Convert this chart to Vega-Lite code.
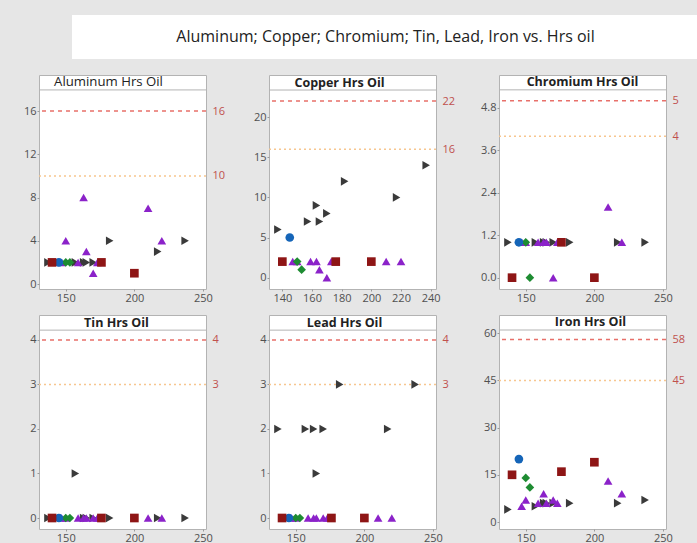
{
  "$schema": "https://vega.github.io/schema/vega-lite/v6.json",
  "background": "#e6e6e6",
  "padding": {"left": 22, "top": 15, "right": 0, "bottom": 0},
  "config": {
    "font": "Open Sans",
    "axis": {"labelFontSize": 11, "labelColor": "#505050", "tickColor": "#9a9a9a", "tickSize": 2, "domain": false, "grid": false, "labelPadding": 1, "title": null},
    "view": {"stroke": "#b3b3b3"}
  },
  "datasets": {
    "panels": [
      {"panel": "Aluminum", "title": "Aluminum Hrs Oil"},
      {"panel": "Copper", "title": "Copper Hrs Oil"},
      {"panel": "Chromium", "title": "Chromium Hrs Oil"},
      {"panel": "Tin", "title": "Tin Hrs Oil"},
      {"panel": "Lead", "title": "Lead Hrs Oil"},
      {"panel": "Iron", "title": "Iron Hrs Oil"}
    ],
    "lims": [
      {"panel": "Aluminum", "level": 16, "kind": "limit"}, {"panel": "Aluminum", "level": 10, "kind": "caution"},
      {"panel": "Copper", "level": 22, "kind": "limit"}, {"panel": "Copper", "level": 16, "kind": "caution"},
      {"panel": "Chromium", "level": 5, "kind": "limit"}, {"panel": "Chromium", "level": 4, "kind": "caution"},
      {"panel": "Tin", "level": 4, "kind": "limit"}, {"panel": "Tin", "level": 3, "kind": "caution"},
      {"panel": "Lead", "level": 4, "kind": "limit"}, {"panel": "Lead", "level": 3, "kind": "caution"},
      {"panel": "Iron", "level": 58, "kind": "limit"}, {"panel": "Iron", "level": 45, "kind": "caution"}
    ],
    "pts": [
      {"panel": "Aluminum", "group": "S1", "hrs": 137, "value": 2},
      {"panel": "Aluminum", "group": "S1", "hrs": 157, "value": 2},
      {"panel": "Aluminum", "group": "S1", "hrs": 163, "value": 2},
      {"panel": "Aluminum", "group": "S1", "hrs": 165, "value": 2},
      {"panel": "Aluminum", "group": "S1", "hrs": 170, "value": 2},
      {"panel": "Aluminum", "group": "S1", "hrs": 182, "value": 4},
      {"panel": "Aluminum", "group": "S1", "hrs": 217, "value": 3},
      {"panel": "Aluminum", "group": "S1", "hrs": 237, "value": 4},
      {"panel": "Aluminum", "group": "S2", "hrs": 147, "value": 2},
      {"panel": "Aluminum", "group": "S2", "hrs": 150, "value": 4},
      {"panel": "Aluminum", "group": "S2", "hrs": 159, "value": 2},
      {"panel": "Aluminum", "group": "S2", "hrs": 163, "value": 8},
      {"panel": "Aluminum", "group": "S2", "hrs": 165, "value": 3},
      {"panel": "Aluminum", "group": "S2", "hrs": 170, "value": 1},
      {"panel": "Aluminum", "group": "S2", "hrs": 173, "value": 2},
      {"panel": "Aluminum", "group": "S2", "hrs": 210, "value": 7},
      {"panel": "Aluminum", "group": "S2", "hrs": 220, "value": 4},
      {"panel": "Aluminum", "group": "S4", "hrs": 150, "value": 2},
      {"panel": "Aluminum", "group": "S4", "hrs": 153, "value": 2},
      {"panel": "Aluminum", "group": "S5", "hrs": 145, "value": 2},
      {"panel": "Aluminum", "group": "S3", "hrs": 140, "value": 2},
      {"panel": "Aluminum", "group": "S3", "hrs": 176, "value": 2},
      {"panel": "Aluminum", "group": "S3", "hrs": 200, "value": 1},

      {"panel": "Copper", "group": "S1", "hrs": 137, "value": 6},
      {"panel": "Copper", "group": "S1", "hrs": 157, "value": 7},
      {"panel": "Copper", "group": "S1", "hrs": 163, "value": 9},
      {"panel": "Copper", "group": "S1", "hrs": 165, "value": 7},
      {"panel": "Copper", "group": "S1", "hrs": 170, "value": 8},
      {"panel": "Copper", "group": "S1", "hrs": 182, "value": 12},
      {"panel": "Copper", "group": "S1", "hrs": 217, "value": 10},
      {"panel": "Copper", "group": "S1", "hrs": 237, "value": 14},
      {"panel": "Copper", "group": "S2", "hrs": 147, "value": 2},
      {"panel": "Copper", "group": "S2", "hrs": 150, "value": 2},
      {"panel": "Copper", "group": "S2", "hrs": 159, "value": 2},
      {"panel": "Copper", "group": "S2", "hrs": 163, "value": 2},
      {"panel": "Copper", "group": "S2", "hrs": 165, "value": 1},
      {"panel": "Copper", "group": "S2", "hrs": 170, "value": 0},
      {"panel": "Copper", "group": "S2", "hrs": 173, "value": 2},
      {"panel": "Copper", "group": "S2", "hrs": 210, "value": 2},
      {"panel": "Copper", "group": "S2", "hrs": 220, "value": 2},
      {"panel": "Copper", "group": "S4", "hrs": 150, "value": 2},
      {"panel": "Copper", "group": "S4", "hrs": 153, "value": 1},
      {"panel": "Copper", "group": "S5", "hrs": 145, "value": 5},
      {"panel": "Copper", "group": "S3", "hrs": 140, "value": 2},
      {"panel": "Copper", "group": "S3", "hrs": 176, "value": 2},
      {"panel": "Copper", "group": "S3", "hrs": 200, "value": 2},

      {"panel": "Chromium", "group": "S1", "hrs": 137, "value": 1},
      {"panel": "Chromium", "group": "S1", "hrs": 157, "value": 1},
      {"panel": "Chromium", "group": "S1", "hrs": 163, "value": 1},
      {"panel": "Chromium", "group": "S1", "hrs": 165, "value": 1},
      {"panel": "Chromium", "group": "S1", "hrs": 170, "value": 1},
      {"panel": "Chromium", "group": "S1", "hrs": 182, "value": 1},
      {"panel": "Chromium", "group": "S1", "hrs": 217, "value": 1},
      {"panel": "Chromium", "group": "S1", "hrs": 237, "value": 1},
      {"panel": "Chromium", "group": "S2", "hrs": 147, "value": 1},
      {"panel": "Chromium", "group": "S2", "hrs": 150, "value": 1},
      {"panel": "Chromium", "group": "S2", "hrs": 159, "value": 1},
      {"panel": "Chromium", "group": "S2", "hrs": 163, "value": 1},
      {"panel": "Chromium", "group": "S2", "hrs": 165, "value": 1},
      {"panel": "Chromium", "group": "S2", "hrs": 170, "value": 0},
      {"panel": "Chromium", "group": "S2", "hrs": 173, "value": 1},
      {"panel": "Chromium", "group": "S2", "hrs": 210, "value": 2},
      {"panel": "Chromium", "group": "S2", "hrs": 220, "value": 1},
      {"panel": "Chromium", "group": "S4", "hrs": 150, "value": 1},
      {"panel": "Chromium", "group": "S4", "hrs": 153, "value": 0},
      {"panel": "Chromium", "group": "S5", "hrs": 145, "value": 1},
      {"panel": "Chromium", "group": "S3", "hrs": 140, "value": 0},
      {"panel": "Chromium", "group": "S3", "hrs": 176, "value": 1},
      {"panel": "Chromium", "group": "S3", "hrs": 200, "value": 0},

      {"panel": "Tin", "group": "S1", "hrs": 137, "value": 0},
      {"panel": "Tin", "group": "S1", "hrs": 157, "value": 1},
      {"panel": "Tin", "group": "S1", "hrs": 163, "value": 0},
      {"panel": "Tin", "group": "S1", "hrs": 165, "value": 0},
      {"panel": "Tin", "group": "S1", "hrs": 170, "value": 0},
      {"panel": "Tin", "group": "S1", "hrs": 182, "value": 0},
      {"panel": "Tin", "group": "S1", "hrs": 217, "value": 0},
      {"panel": "Tin", "group": "S1", "hrs": 237, "value": 0},
      {"panel": "Tin", "group": "S2", "hrs": 147, "value": 0},
      {"panel": "Tin", "group": "S2", "hrs": 150, "value": 0},
      {"panel": "Tin", "group": "S2", "hrs": 159, "value": 0},
      {"panel": "Tin", "group": "S2", "hrs": 163, "value": 0},
      {"panel": "Tin", "group": "S2", "hrs": 165, "value": 0},
      {"panel": "Tin", "group": "S2", "hrs": 170, "value": 0},
      {"panel": "Tin", "group": "S2", "hrs": 173, "value": 0},
      {"panel": "Tin", "group": "S2", "hrs": 210, "value": 0},
      {"panel": "Tin", "group": "S2", "hrs": 220, "value": 0},
      {"panel": "Tin", "group": "S4", "hrs": 150, "value": 0},
      {"panel": "Tin", "group": "S4", "hrs": 153, "value": 0},
      {"panel": "Tin", "group": "S5", "hrs": 145, "value": 0},
      {"panel": "Tin", "group": "S3", "hrs": 140, "value": 0},
      {"panel": "Tin", "group": "S3", "hrs": 176, "value": 0},
      {"panel": "Tin", "group": "S3", "hrs": 200, "value": 0},

      {"panel": "Lead", "group": "S1", "hrs": 137, "value": 2},
      {"panel": "Lead", "group": "S1", "hrs": 157, "value": 2},
      {"panel": "Lead", "group": "S1", "hrs": 163, "value": 2},
      {"panel": "Lead", "group": "S1", "hrs": 165, "value": 1},
      {"panel": "Lead", "group": "S1", "hrs": 170, "value": 2},
      {"panel": "Lead", "group": "S1", "hrs": 182, "value": 3},
      {"panel": "Lead", "group": "S1", "hrs": 217, "value": 2},
      {"panel": "Lead", "group": "S1", "hrs": 237, "value": 3},
      {"panel": "Lead", "group": "S2", "hrs": 147, "value": 0},
      {"panel": "Lead", "group": "S2", "hrs": 150, "value": 0},
      {"panel": "Lead", "group": "S2", "hrs": 159, "value": 0},
      {"panel": "Lead", "group": "S2", "hrs": 163, "value": 0},
      {"panel": "Lead", "group": "S2", "hrs": 165, "value": 0},
      {"panel": "Lead", "group": "S2", "hrs": 170, "value": 0},
      {"panel": "Lead", "group": "S2", "hrs": 173, "value": 0},
      {"panel": "Lead", "group": "S2", "hrs": 210, "value": 0},
      {"panel": "Lead", "group": "S2", "hrs": 220, "value": 0},
      {"panel": "Lead", "group": "S4", "hrs": 150, "value": 0},
      {"panel": "Lead", "group": "S4", "hrs": 153, "value": 0},
      {"panel": "Lead", "group": "S5", "hrs": 145, "value": 0},
      {"panel": "Lead", "group": "S3", "hrs": 140, "value": 0},
      {"panel": "Lead", "group": "S3", "hrs": 176, "value": 0},
      {"panel": "Lead", "group": "S3", "hrs": 200, "value": 0},

      {"panel": "Iron", "group": "S1", "hrs": 137, "value": 4},
      {"panel": "Iron", "group": "S1", "hrs": 157, "value": 5},
      {"panel": "Iron", "group": "S1", "hrs": 163, "value": 6},
      {"panel": "Iron", "group": "S1", "hrs": 165, "value": 6},
      {"panel": "Iron", "group": "S1", "hrs": 170, "value": 6},
      {"panel": "Iron", "group": "S1", "hrs": 182, "value": 6},
      {"panel": "Iron", "group": "S1", "hrs": 217, "value": 6},
      {"panel": "Iron", "group": "S1", "hrs": 237, "value": 7},
      {"panel": "Iron", "group": "S2", "hrs": 147, "value": 5},
      {"panel": "Iron", "group": "S2", "hrs": 150, "value": 7},
      {"panel": "Iron", "group": "S2", "hrs": 159, "value": 6},
      {"panel": "Iron", "group": "S2", "hrs": 163, "value": 9},
      {"panel": "Iron", "group": "S2", "hrs": 165, "value": 6},
      {"panel": "Iron", "group": "S2", "hrs": 170, "value": 7},
      {"panel": "Iron", "group": "S2", "hrs": 173, "value": 6},
      {"panel": "Iron", "group": "S2", "hrs": 210, "value": 13},
      {"panel": "Iron", "group": "S2", "hrs": 220, "value": 9},
      {"panel": "Iron", "group": "S4", "hrs": 150, "value": 14},
      {"panel": "Iron", "group": "S4", "hrs": 153, "value": 11},
      {"panel": "Iron", "group": "S5", "hrs": 145, "value": 20},
      {"panel": "Iron", "group": "S3", "hrs": 140, "value": 15},
      {"panel": "Iron", "group": "S3", "hrs": 176, "value": 16},
      {"panel": "Iron", "group": "S3", "hrs": 200, "value": 19}
    ]
  },
  "vconcat": [
    {
      "hconcat": [
        {"width": 1, "height": 44, "data": {"values": []}, "mark": "point", "view": {"stroke": null}},
        {
          "width": 627, "height": 44,
          "view": {"fill": "white", "stroke": null},
          "data": {"values": [{"t": "Aluminum; Copper; Chromium; Tin, Lead, Iron vs. Hrs oil"}]},
          "mark": {"type": "text", "fontSize": 16, "color": "#222222"},
          "encoding": {"text": {"field": "t"}}
        }
      ],
      "spacing": 32,
      "bounds": "flush"
    },
    {
      "columns": 3,
      "spacing": {"column": 63, "row": 26},
      "bounds": "flush",
      "concat": [
        {
          "width": 167, "height": 214,
          "view": {"fill": "white", "stroke": "#b3b3b3"},
          "resolve": {"axis": {"y": "independent"}},
          "layer": [
            {
              "data": {"name": "lims"}, "transform": [{"filter": "datum.panel === 'Aluminum'"}],
              "mark": {"type": "rule", "strokeWidth": 1.5},
              "encoding": {
                "y": {"field": "level", "type": "quantitative", "scale": {"domain": [-0.46, 19.33], "nice": false, "zero": false}, "axis": {"orient": "right", "values": [10, 16], "format": "d", "labelColor": "#c0504d", "ticks": false, "labelPadding": 6}},
                "stroke": {"field": "kind", "type": "nominal", "scale": {"domain": ["limit", "caution"], "range": ["#e8706a", "#f7c68f"]}, "legend": null},
                "strokeDash": {"field": "kind", "type": "nominal", "scale": {"domain": ["limit", "caution"], "range": [[4, 4], [2, 3]]}, "legend": null}
              }
            },
            {
              "data": {"name": "panels"}, "transform": [{"filter": "datum.panel === 'Aluminum'"}],
              "mark": {"type": "rule", "color": "#b3b3b3"},
              "encoding": {"y": {"datum": 17.95, "type": "quantitative", "axis": null}}
            },
            {
              "data": {"name": "panels"}, "transform": [{"filter": "datum.panel === 'Aluminum'"}],
              "mark": {"type": "text", "fontSize": 13.2, "fontWeight": "normal", "color": "#222222", "dx": -14},
              "encoding": {"text": {"field": "title"}, "y": {"datum": 18.65, "type": "quantitative", "axis": null}}
            },
            {
              "data": {"name": "pts"}, "transform": [{"filter": "datum.panel === 'Aluminum'"}],
              "mark": {"type": "point", "filled": true, "opacity": 1, "size": 75},
              "encoding": {
                "x": {"field": "hrs", "type": "quantitative", "scale": {"domain": [130.5, 252.2], "nice": false, "zero": false}, "axis": {"values": [150, 200, 250]}},
                "y": {"field": "value", "type": "quantitative", "axis": {"values": [0, 4, 8, 12, 16]}},
                "shape": {"field": "group", "type": "nominal", "scale": {"domain": ["S1", "S2", "S3", "S4", "S5"], "range": ["triangle-right", "triangle-up", "square", "diamond", "circle"]}, "legend": null},
                "color": {"field": "group", "type": "nominal", "scale": {"domain": ["S1", "S2", "S3", "S4", "S5"], "range": ["#3a3a3a", "#8b22c9", "#8e1515", "#1e8c32", "#1565b8"]}, "legend": null}
              }
            }
          ]
        },
        {
          "width": 167, "height": 214,
          "view": {"fill": "white", "stroke": "#b3b3b3"},
          "resolve": {"axis": {"y": "independent"}},
          "layer": [
            {
              "data": {"name": "lims"}, "transform": [{"filter": "datum.panel === 'Copper'"}],
              "mark": {"type": "rule", "strokeWidth": 1.5},
              "encoding": {
                "y": {"field": "level", "type": "quantitative", "scale": {"domain": [-1.41, 25.24], "nice": false, "zero": false}, "axis": {"orient": "right", "values": [16, 22], "format": "d", "labelColor": "#c0504d", "ticks": false, "labelPadding": 6}},
                "stroke": {"field": "kind", "type": "nominal", "scale": {"domain": ["limit", "caution"], "range": ["#e8706a", "#f7c68f"]}, "legend": null},
                "strokeDash": {"field": "kind", "type": "nominal", "scale": {"domain": ["limit", "caution"], "range": [[4, 4], [2, 3]]}, "legend": null}
              }
            },
            {
              "data": {"name": "panels"}, "transform": [{"filter": "datum.panel === 'Copper'"}],
              "mark": {"type": "rule", "color": "#b3b3b3"},
              "encoding": {"y": {"datum": 23.37, "type": "quantitative", "axis": null}}
            },
            {
              "data": {"name": "panels"}, "transform": [{"filter": "datum.panel === 'Copper'"}],
              "mark": {"type": "text", "fontSize": 12.5, "fontWeight": "bold", "color": "#222222", "dx": -13},
              "encoding": {"text": {"field": "title"}, "y": {"datum": 24.3, "type": "quantitative", "axis": null}}
            },
            {
              "data": {"name": "pts"}, "transform": [{"filter": "datum.panel === 'Copper'"}],
              "mark": {"type": "point", "filled": true, "opacity": 1, "size": 75},
              "encoding": {
                "x": {"field": "hrs", "type": "quantitative", "scale": {"domain": [131, 243.6], "nice": false, "zero": false}, "axis": {"values": [140, 160, 180, 200, 220, 240]}},
                "y": {"field": "value", "type": "quantitative", "axis": {"values": [0, 5, 10, 15, 20]}},
                "shape": {"field": "group", "type": "nominal", "scale": {"domain": ["S1", "S2", "S3", "S4", "S5"], "range": ["triangle-right", "triangle-up", "square", "diamond", "circle"]}, "legend": null},
                "color": {"field": "group", "type": "nominal", "scale": {"domain": ["S1", "S2", "S3", "S4", "S5"], "range": ["#3a3a3a", "#8b22c9", "#8e1515", "#1e8c32", "#1565b8"]}, "legend": null}
              }
            }
          ]
        },
        {
          "width": 167, "height": 214,
          "view": {"fill": "white", "stroke": "#b3b3b3"},
          "resolve": {"axis": {"y": "independent"}},
          "layer": [
            {
              "data": {"name": "lims"}, "transform": [{"filter": "datum.panel === 'Chromium'"}],
              "mark": {"type": "rule", "strokeWidth": 1.5},
              "encoding": {
                "y": {"field": "level", "type": "quantitative", "scale": {"domain": [-0.32, 5.73], "nice": false, "zero": false}, "axis": {"orient": "right", "values": [4, 5], "format": "d", "labelColor": "#c0504d", "ticks": false, "labelPadding": 6}},
                "stroke": {"field": "kind", "type": "nominal", "scale": {"domain": ["limit", "caution"], "range": ["#e8706a", "#f7c68f"]}, "legend": null},
                "strokeDash": {"field": "kind", "type": "nominal", "scale": {"domain": ["limit", "caution"], "range": [[4, 4], [2, 3]]}, "legend": null}
              }
            },
            {
              "data": {"name": "panels"}, "transform": [{"filter": "datum.panel === 'Chromium'"}],
              "mark": {"type": "rule", "color": "#b3b3b3"},
              "encoding": {"y": {"datum": 5.31, "type": "quantitative", "axis": null}}
            },
            {
              "data": {"name": "panels"}, "transform": [{"filter": "datum.panel === 'Chromium'"}],
              "mark": {"type": "text", "fontSize": 12.5, "fontWeight": "bold", "color": "#222222"},
              "encoding": {"text": {"field": "title"}, "y": {"datum": 5.52, "type": "quantitative", "axis": null}}
            },
            {
              "data": {"name": "pts"}, "transform": [{"filter": "datum.panel === 'Chromium'"}],
              "mark": {"type": "point", "filled": true, "opacity": 1, "size": 75},
              "encoding": {
                "x": {"field": "hrs", "type": "quantitative", "scale": {"domain": [130.5, 252.2], "nice": false, "zero": false}, "axis": {"values": [150, 200, 250]}},
                "y": {"field": "value", "type": "quantitative", "axis": {"values": [0, 1.2, 2.4, 3.6, 4.8], "format": ".1f"}},
                "shape": {"field": "group", "type": "nominal", "scale": {"domain": ["S1", "S2", "S3", "S4", "S5"], "range": ["triangle-right", "triangle-up", "square", "diamond", "circle"]}, "legend": null},
                "color": {"field": "group", "type": "nominal", "scale": {"domain": ["S1", "S2", "S3", "S4", "S5"], "range": ["#3a3a3a", "#8b22c9", "#8e1515", "#1e8c32", "#1565b8"]}, "legend": null}
              }
            }
          ]
        },
        {
          "width": 167, "height": 214,
          "view": {"fill": "white", "stroke": "#b3b3b3"},
          "resolve": {"axis": {"y": "independent"}},
          "layer": [
            {
              "data": {"name": "lims"}, "transform": [{"filter": "datum.panel === 'Tin'"}],
              "mark": {"type": "rule", "strokeWidth": 1.5},
              "encoding": {
                "y": {"field": "level", "type": "quantitative", "scale": {"domain": [-0.247, 4.56], "nice": false, "zero": false}, "axis": {"orient": "right", "values": [3, 4], "format": "d", "labelColor": "#c0504d", "ticks": false, "labelPadding": 6}},
                "stroke": {"field": "kind", "type": "nominal", "scale": {"domain": ["limit", "caution"], "range": ["#e8706a", "#f7c68f"]}, "legend": null},
                "strokeDash": {"field": "kind", "type": "nominal", "scale": {"domain": ["limit", "caution"], "range": [[4, 4], [2, 3]]}, "legend": null}
              }
            },
            {
              "data": {"name": "panels"}, "transform": [{"filter": "datum.panel === 'Tin'"}],
              "mark": {"type": "rule", "color": "#b3b3b3"},
              "encoding": {"y": {"datum": 4.22, "type": "quantitative", "axis": null}}
            },
            {
              "data": {"name": "panels"}, "transform": [{"filter": "datum.panel === 'Tin'"}],
              "mark": {"type": "text", "fontSize": 12.5, "fontWeight": "bold", "color": "#222222", "dx": -6},
              "encoding": {"text": {"field": "title"}, "y": {"datum": 4.39, "type": "quantitative", "axis": null}}
            },
            {
              "data": {"name": "pts"}, "transform": [{"filter": "datum.panel === 'Tin'"}],
              "mark": {"type": "point", "filled": true, "opacity": 1, "size": 75},
              "encoding": {
                "x": {"field": "hrs", "type": "quantitative", "scale": {"domain": [130.5, 252.2], "nice": false, "zero": false}, "axis": {"values": [150, 200, 250]}},
                "y": {"field": "value", "type": "quantitative", "axis": {"values": [0, 1, 2, 3, 4]}},
                "shape": {"field": "group", "type": "nominal", "scale": {"domain": ["S1", "S2", "S3", "S4", "S5"], "range": ["triangle-right", "triangle-up", "square", "diamond", "circle"]}, "legend": null},
                "color": {"field": "group", "type": "nominal", "scale": {"domain": ["S1", "S2", "S3", "S4", "S5"], "range": ["#3a3a3a", "#8b22c9", "#8e1515", "#1e8c32", "#1565b8"]}, "legend": null}
              }
            }
          ]
        },
        {
          "width": 167, "height": 214,
          "view": {"fill": "white", "stroke": "#b3b3b3"},
          "resolve": {"axis": {"y": "independent"}},
          "layer": [
            {
              "data": {"name": "lims"}, "transform": [{"filter": "datum.panel === 'Lead'"}],
              "mark": {"type": "rule", "strokeWidth": 1.5},
              "encoding": {
                "y": {"field": "level", "type": "quantitative", "scale": {"domain": [-0.247, 4.56], "nice": false, "zero": false}, "axis": {"orient": "right", "values": [3, 4], "format": "d", "labelColor": "#c0504d", "ticks": false, "labelPadding": 6}},
                "stroke": {"field": "kind", "type": "nominal", "scale": {"domain": ["limit", "caution"], "range": ["#e8706a", "#f7c68f"]}, "legend": null},
                "strokeDash": {"field": "kind", "type": "nominal", "scale": {"domain": ["limit", "caution"], "range": [[4, 4], [2, 3]]}, "legend": null}
              }
            },
            {
              "data": {"name": "panels"}, "transform": [{"filter": "datum.panel === 'Lead'"}],
              "mark": {"type": "rule", "color": "#b3b3b3"},
              "encoding": {"y": {"datum": 4.22, "type": "quantitative", "axis": null}}
            },
            {
              "data": {"name": "panels"}, "transform": [{"filter": "datum.panel === 'Lead'"}],
              "mark": {"type": "text", "fontSize": 12.5, "fontWeight": "bold", "color": "#222222", "dx": -8},
              "encoding": {"text": {"field": "title"}, "y": {"datum": 4.39, "type": "quantitative", "axis": null}}
            },
            {
              "data": {"name": "pts"}, "transform": [{"filter": "datum.panel === 'Lead'"}],
              "mark": {"type": "point", "filled": true, "opacity": 1, "size": 75},
              "encoding": {
                "x": {"field": "hrs", "type": "quantitative", "scale": {"domain": [130.5, 252.2], "nice": false, "zero": false}, "axis": {"values": [150, 200, 250]}},
                "y": {"field": "value", "type": "quantitative", "axis": {"values": [0, 1, 2, 3, 4]}},
                "shape": {"field": "group", "type": "nominal", "scale": {"domain": ["S1", "S2", "S3", "S4", "S5"], "range": ["triangle-right", "triangle-up", "square", "diamond", "circle"]}, "legend": null},
                "color": {"field": "group", "type": "nominal", "scale": {"domain": ["S1", "S2", "S3", "S4", "S5"], "range": ["#3a3a3a", "#8b22c9", "#8e1515", "#1e8c32", "#1565b8"]}, "legend": null}
              }
            }
          ]
        },
        {
          "width": 167, "height": 214,
          "view": {"fill": "white", "stroke": "#b3b3b3"},
          "resolve": {"axis": {"y": "independent"}},
          "layer": [
            {
              "data": {"name": "lims"}, "transform": [{"filter": "datum.panel === 'Iron'"}],
              "mark": {"type": "rule", "strokeWidth": 1.5},
              "encoding": {
                "y": {"field": "level", "type": "quantitative", "scale": {"domain": [-2.22, 65.78], "nice": false, "zero": false}, "axis": {"orient": "right", "values": [45, 58], "format": "d", "labelColor": "#c0504d", "ticks": false, "labelPadding": 6}},
                "stroke": {"field": "kind", "type": "nominal", "scale": {"domain": ["limit", "caution"], "range": ["#e8706a", "#f7c68f"]}, "legend": null},
                "strokeDash": {"field": "kind", "type": "nominal", "scale": {"domain": ["limit", "caution"], "range": [[4, 4], [2, 3]]}, "legend": null}
              }
            },
            {
              "data": {"name": "panels"}, "transform": [{"filter": "datum.panel === 'Iron'"}],
              "mark": {"type": "rule", "color": "#b3b3b3"},
              "encoding": {"y": {"datum": 61.01, "type": "quantitative", "axis": null}}
            },
            {
              "data": {"name": "panels"}, "transform": [{"filter": "datum.panel === 'Iron'"}],
              "mark": {"type": "text", "fontSize": 12.5, "fontWeight": "bold", "color": "#222222", "dx": 8},
              "encoding": {"text": {"field": "title"}, "y": {"datum": 63.4, "type": "quantitative", "axis": null}}
            },
            {
              "data": {"name": "pts"}, "transform": [{"filter": "datum.panel === 'Iron'"}],
              "mark": {"type": "point", "filled": true, "opacity": 1, "size": 75},
              "encoding": {
                "x": {"field": "hrs", "type": "quantitative", "scale": {"domain": [130.5, 252.2], "nice": false, "zero": false}, "axis": {"values": [150, 200, 250]}},
                "y": {"field": "value", "type": "quantitative", "axis": {"values": [0, 15, 30, 45, 60]}},
                "shape": {"field": "group", "type": "nominal", "scale": {"domain": ["S1", "S2", "S3", "S4", "S5"], "range": ["triangle-right", "triangle-up", "square", "diamond", "circle"]}, "legend": null},
                "color": {"field": "group", "type": "nominal", "scale": {"domain": ["S1", "S2", "S3", "S4", "S5"], "range": ["#3a3a3a", "#8b22c9", "#8e1515", "#1e8c32", "#1565b8"]}, "legend": null}
              }
            }
          ]
        }
      ]
    }
  ],
  "spacing": 15,
  "bounds": "full"
}
